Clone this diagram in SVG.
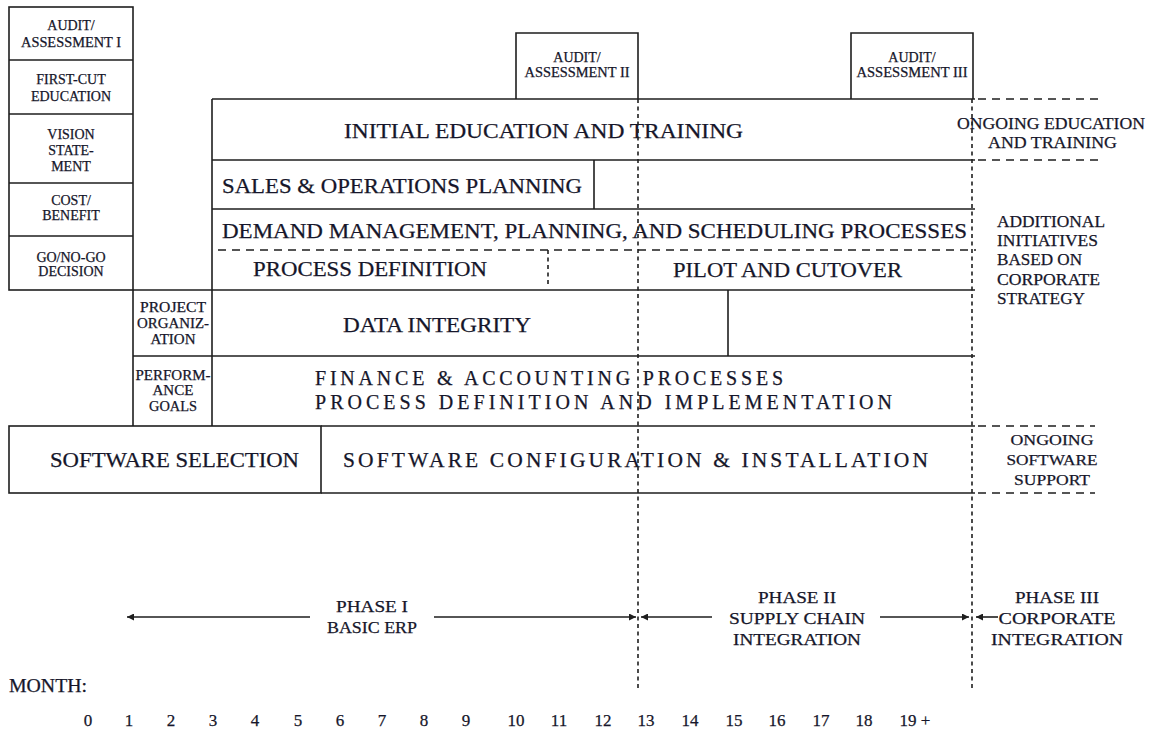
<svg xmlns="http://www.w3.org/2000/svg" width="1154" height="731" viewBox="0 0 1154 731">
<style>
.ln{stroke:#1e1e1e;stroke-width:1.6;fill:none}
.dh{stroke:#1e1e1e;stroke-width:1.6;fill:none;stroke-dasharray:8 6}
.dv{stroke:#1e1e1e;stroke-width:1.6;fill:none;stroke-dasharray:4 3.5}
text{font-family:"Liberation Serif","Times New Roman",serif;fill:#16162a;stroke:#16162a;stroke-width:0.25}
.big{font-size:21px}
.sp{font-size:20px}
.sm{font-size:14px;text-anchor:middle}
.rt{font-size:16.5px}
.ph{font-size:17px;text-anchor:middle}
.num{font-size:17px;text-anchor:middle}
</style>
<defs>
<marker id="ah" viewBox="0 0 10 10" refX="10" refY="5" markerWidth="9" markerHeight="7" markerUnits="userSpaceOnUse" orient="auto-start-reverse">
<path d="M0,0 L10,5 L0,10 z" fill="#1e1e1e"/>
</marker>
</defs>
<rect width="1154" height="731" fill="#fff"/>

<g id="left-column">
<rect class="ln" x="9" y="7" width="124" height="283"/>
<line class="ln" x1="9" y1="60" x2="133" y2="60"/>
<line class="ln" x1="9" y1="114" x2="133" y2="114"/>
<line class="ln" x1="9" y1="183" x2="133" y2="183"/>
<line class="ln" x1="9" y1="236" x2="133" y2="236"/>
</g>
<g id="audit1"><text class="sm" x="71" y="30">AUDIT/</text><text class="sm" x="71" y="47" textLength="100" lengthAdjust="spacingAndGlyphs">ASSESSMENT I</text></g>
<g id="first-cut"><text class="sm" x="71" y="84">FIRST-CUT</text><text class="sm" x="71" y="101">EDUCATION</text></g>
<g id="vision"><text class="sm" x="71" y="139">VISION</text><text class="sm" x="71" y="155">STATE-</text><text class="sm" x="71" y="171">MENT</text></g>
<g id="cost-benefit"><text class="sm" x="71" y="205">COST/</text><text class="sm" x="71" y="220">BENEFIT</text></g>
<g id="go-no-go"><text class="sm" x="71" y="262">GO/NO-GO</text><text class="sm" x="71" y="276">DECISION</text></g>

<g id="project-organization">
<line class="ln" x1="133" y1="290" x2="133" y2="426"/>
<line class="ln" x1="133" y1="356" x2="212" y2="356"/>
<text class="sm" x="173" y="312" textLength="66" lengthAdjust="spacingAndGlyphs">PROJECT</text>
<text class="sm" x="173" y="328" textLength="72" lengthAdjust="spacingAndGlyphs">ORGANIZ-</text>
<text class="sm" x="173" y="344" textLength="45" lengthAdjust="spacingAndGlyphs">ATION</text>
</g>
<g id="performance-goals">
<text class="sm" x="173" y="380" textLength="75" lengthAdjust="spacingAndGlyphs">PERFORM-</text>
<text class="sm" x="173" y="395" textLength="41" lengthAdjust="spacingAndGlyphs">ANCE</text>
<text class="sm" x="173" y="411" textLength="48" lengthAdjust="spacingAndGlyphs">GOALS</text>
</g>

<g id="audit2">
<polyline class="ln" points="516,99 516,33 638,33 638,99"/>
<text class="sm" x="577" y="62">AUDIT/</text>
<text class="sm" x="577" y="77" textLength="105" lengthAdjust="spacingAndGlyphs">ASSESSMENT II</text>
</g>
<g id="audit3">
<polyline class="ln" points="851,99 851,33 973,33 973,99"/>
<text class="sm" x="912" y="62">AUDIT/</text>
<text class="sm" x="912" y="77" textLength="111" lengthAdjust="spacingAndGlyphs">ASSESSMENT III</text>
</g>

<g id="initial-education">
<line class="ln" x1="212" y1="99" x2="975" y2="99"/>
<line class="ln" x1="212" y1="99" x2="212" y2="426"/>
<line class="ln" x1="212" y1="160" x2="975" y2="160"/>
<text class="big" x="344" y="138" textLength="399" lengthAdjust="spacingAndGlyphs">INITIAL EDUCATION AND TRAINING</text>
</g>
<g id="sales-operations">
<line class="ln" x1="594" y1="160" x2="594" y2="209"/>
<line class="ln" x1="212" y1="209" x2="975" y2="209"/>
<text class="big" x="222" y="193" textLength="360" lengthAdjust="spacingAndGlyphs">SALES &amp; OPERATIONS PLANNING</text>
</g>
<g id="demand-management">
<line class="dh" x1="218" y1="250" x2="976" y2="250"/>
<text class="big" x="222" y="238" textLength="745" lengthAdjust="spacingAndGlyphs">DEMAND MANAGEMENT, PLANNING, AND SCHEDULING PROCESSES</text>
</g>
<g id="process-definition">
<line class="dv" x1="548" y1="250" x2="548" y2="285"/>
<text class="big" x="253" y="276" textLength="234" lengthAdjust="spacingAndGlyphs">PROCESS DEFINITION</text>
</g>
<g id="pilot-cutover">
<text class="big" x="673" y="277" textLength="229" lengthAdjust="spacingAndGlyphs">PILOT AND CUTOVER</text>
</g>
<g id="data-integrity">
<line class="ln" x1="133" y1="290" x2="975" y2="290"/>
<line class="ln" x1="728" y1="290" x2="728" y2="356"/>
<line class="ln" x1="212" y1="356" x2="975" y2="356"/>
<text class="big" x="343" y="332" textLength="188" lengthAdjust="spacingAndGlyphs">DATA INTEGRITY</text>
</g>
<g id="finance-accounting">
<text class="sp" x="315" y="385" textLength="468" lengthAdjust="spacing">FINANCE &amp; ACCOUNTING PROCESSES</text>
<text class="sp" x="315" y="409" textLength="577" lengthAdjust="spacing">PROCESS DEFINITION AND IMPLEMENTATION</text>
</g>
<g id="software-selection">
<rect class="ln" x="9" y="426" width="312" height="67"/>
<text class="big" x="50" y="467" textLength="249" lengthAdjust="spacingAndGlyphs">SOFTWARE SELECTION</text>
</g>
<g id="software-configuration">
<line class="ln" x1="321" y1="426" x2="975" y2="426"/>
<line class="ln" x1="321" y1="493" x2="975" y2="493"/>
<text style="font-size:21.5px" x="343" y="467" textLength="585" lengthAdjust="spacing">SOFTWARE CONFIGURATION &amp; INSTALLATION</text>
</g>

<g id="ongoing-education">
<line class="dh" x1="978" y1="99" x2="1098" y2="99"/>
<line class="dh" x1="978" y1="160" x2="1098" y2="160"/>
<text class="rt" style="font-size:17px" x="957" y="129" textLength="188" lengthAdjust="spacingAndGlyphs">ONGOING EDUCATION</text>
<text class="rt" style="font-size:17px" x="988" y="148" textLength="129" lengthAdjust="spacingAndGlyphs">AND TRAINING</text>
</g>
<g id="additional-initiatives">
<text class="rt" x="997" y="227" textLength="108" lengthAdjust="spacingAndGlyphs">ADDITIONAL</text>
<text class="rt" x="997" y="246" textLength="101" lengthAdjust="spacingAndGlyphs">INITIATIVES</text>
<text class="rt" x="997" y="265" textLength="85" lengthAdjust="spacingAndGlyphs">BASED ON</text>
<text class="rt" x="997" y="285" textLength="103" lengthAdjust="spacingAndGlyphs">CORPORATE</text>
<text class="rt" x="997" y="304" textLength="88" lengthAdjust="spacingAndGlyphs">STRATEGY</text>
</g>
<g id="ongoing-software">
<line class="dh" x1="978" y1="426" x2="1095" y2="426"/>
<line class="dh" x1="978" y1="493" x2="1095" y2="493"/>
<text class="ph" style="font-size:15.5px" x="1052" y="445" textLength="83" lengthAdjust="spacingAndGlyphs">ONGOING</text>
<text class="ph" style="font-size:15.5px" x="1052" y="465" textLength="91" lengthAdjust="spacingAndGlyphs">SOFTWARE</text>
<text class="ph" style="font-size:15.5px" x="1052" y="485" textLength="76" lengthAdjust="spacingAndGlyphs">SUPPORT</text>
</g>

<g id="connectors">
<line class="dv" x1="638" y1="99" x2="638" y2="688"/>
<line class="dv" x1="972" y1="99" x2="972" y2="688"/>
<line class="ln" x1="310" y1="617" x2="127" y2="617" marker-end="url(#ah)"/>
<line class="ln" x1="434" y1="617" x2="636" y2="617" marker-end="url(#ah)"/>
<line class="ln" x1="712" y1="617" x2="641" y2="617" marker-end="url(#ah)"/>
<line class="ln" x1="880" y1="617" x2="969" y2="617" marker-end="url(#ah)"/>
<line class="ln" x1="998" y1="617" x2="976" y2="617" marker-end="url(#ah)"/>
</g>

<g id="phase1">
<text class="ph" x="372" y="612" textLength="72" lengthAdjust="spacingAndGlyphs">PHASE I</text>
<text class="ph" x="372" y="633" textLength="90" lengthAdjust="spacingAndGlyphs">BASIC ERP</text>
</g>
<g id="phase2">
<text class="ph" x="797" y="603" textLength="78" lengthAdjust="spacingAndGlyphs">PHASE II</text>
<text class="ph" x="797" y="624" textLength="136" lengthAdjust="spacingAndGlyphs">SUPPLY CHAIN</text>
<text class="ph" x="797" y="645" textLength="128" lengthAdjust="spacingAndGlyphs">INTEGRATION</text>
</g>
<g id="phase3">
<text class="ph" x="1057" y="603" textLength="84" lengthAdjust="spacingAndGlyphs">PHASE III</text>
<text class="ph" x="1057" y="624" textLength="117" lengthAdjust="spacingAndGlyphs">CORPORATE</text>
<text class="ph" x="1057" y="645" textLength="132" lengthAdjust="spacingAndGlyphs">INTEGRATION</text>
</g>

<g id="months">
<text style="font-size:18px" x="9" y="692" textLength="78" lengthAdjust="spacingAndGlyphs">MONTH:</text>
<text class="num" x="88" y="726">0</text>
<text class="num" x="129" y="726">1</text>
<text class="num" x="171" y="726">2</text>
<text class="num" x="213" y="726">3</text>
<text class="num" x="255" y="726">4</text>
<text class="num" x="298" y="726">5</text>
<text class="num" x="340" y="726">6</text>
<text class="num" x="382" y="726">7</text>
<text class="num" x="424" y="726">8</text>
<text class="num" x="466" y="726">9</text>
<text class="num" x="516" y="726">10</text>
<text class="num" x="559" y="726">11</text>
<text class="num" x="603" y="726">12</text>
<text class="num" x="646" y="726">13</text>
<text class="num" x="690" y="726">14</text>
<text class="num" x="734" y="726">15</text>
<text class="num" x="777" y="726">16</text>
<text class="num" x="821" y="726">17</text>
<text class="num" x="864" y="726">18</text>
<text class="num" x="915" y="726">19 +</text>
</g>
</svg>
